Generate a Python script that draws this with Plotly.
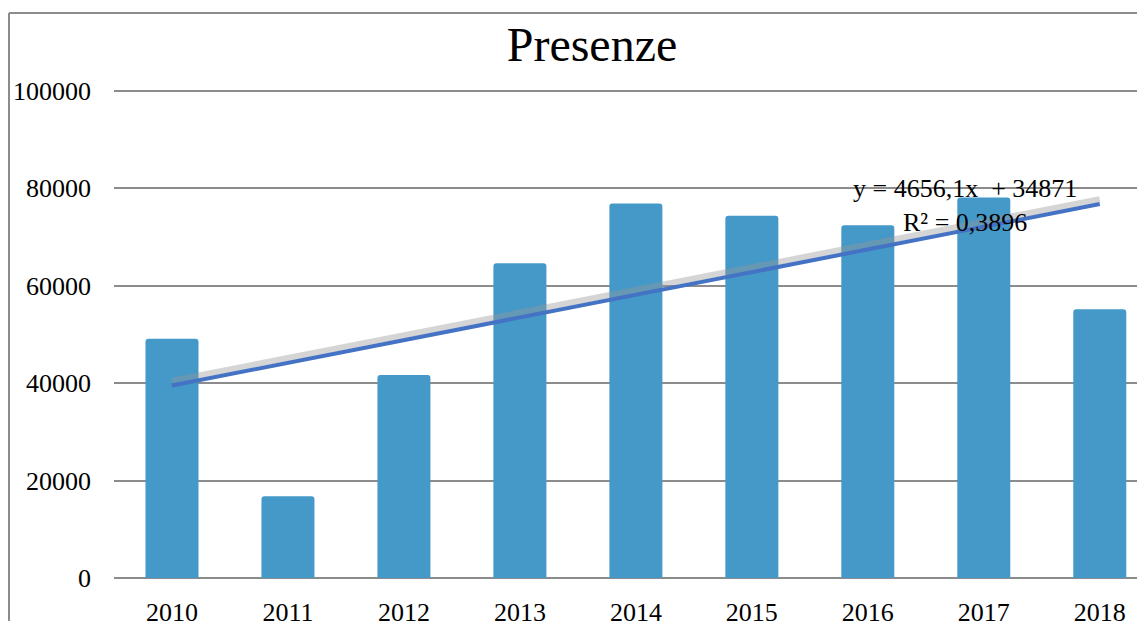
import plotly.graph_objects as go

years = ["2010", "2011", "2012", "2013", "2014", "2015", "2016", "2017", "2018"]
presenze = [49100, 16800, 41700, 64600, 76900, 74400, 72400, 78100, 55200]
trend_slope = 4656.1
trend_intercept = 34871
equation_text = "y = 4656,1x  + 34871<br>R² = 0,3896"
y_ticks = [0, 20000, 40000, 60000, 80000, 100000]

trend = [trend_intercept + trend_slope * (i + 1) for i in range(len(years))]
shadow = [v + 1000 for v in trend]

# the page body adds an 8px offset; figure coordinates below account for it
W, H = 1145, 621
L, T, B, R = 106, 81, 51, 8
plot_h = H - T - B
plot_w = W - L - R

fig = go.Figure()
fig.add_trace(go.Bar(x=years, y=presenze, marker=dict(color="#4599C8", line=dict(width=0)),
                     showlegend=False))
fig.add_trace(go.Scatter(x=years, y=shadow, mode="lines",
                         line=dict(color="rgba(150,150,150,0.4)", width=6),
                         showlegend=False, hoverinfo="skip"))
fig.add_trace(go.Scatter(x=years, y=trend, mode="lines",
                         line=dict(color="#4472C4", width=4),
                         showlegend=False))

font_fam = "Liberation Serif, Times New Roman, serif"

fig.update_layout(
    width=W, height=H,
    margin=dict(l=L, r=R, t=T, b=B, pad=0),
    paper_bgcolor="white", plot_bgcolor="white",
    bargap=0.543,
    barcornerradius=3,
    font=dict(family=font_fam, size=26, color="black"),
    title=dict(text="Presenze", x=584 / W, xref="container", xanchor="center",
               y=1 - 36 / H, yref="container", yanchor="middle",
               font=dict(family=font_fam, size=48, color="black")),
    xaxis=dict(type="category", range=[-0.5, 8.39], showgrid=False, zeroline=False,
               showline=False, ticks="", ticklabelstandoff=16, automargin=False,
               tickfont=dict(family=font_fam, size=26)),
    yaxis=dict(range=[0, 100400], tickvals=y_ticks, ticktext=[str(v) for v in y_ticks],
               showgrid=True, gridcolor="#8C8C8C", gridwidth=2, zeroline=True,
               zerolinecolor="#8C8C8C", zerolinewidth=2, showline=False, ticks="",
               ticklabelstandoff=22, automargin=False,
               tickfont=dict(family=font_fam, size=26)),
    annotations=[
        dict(text=equation_text, x=6.836, y=76400, xref="x", yref="y", showarrow=False,
             align="center", font=dict(family=font_fam, size=26, color="black"),
             xanchor="center", yanchor="middle"),
    ],
    shapes=[
        dict(type="line", xref="paper", yref="paper",
             x0=(1 - L) / plot_w, x1=(1 - L) / plot_w,
             y0=(H - B - 5) / plot_h, y1=-0.3,
             line=dict(color="#8C8C8C", width=2)),
        dict(type="line", xref="paper", yref="paper",
             x0=(1 - L) / plot_w, x1=1.05,
             y0=(H - B - 5) / plot_h, y1=(H - B - 5) / plot_h,
             line=dict(color="#8C8C8C", width=2)),
    ],
)

fig.write_html("out.html")
